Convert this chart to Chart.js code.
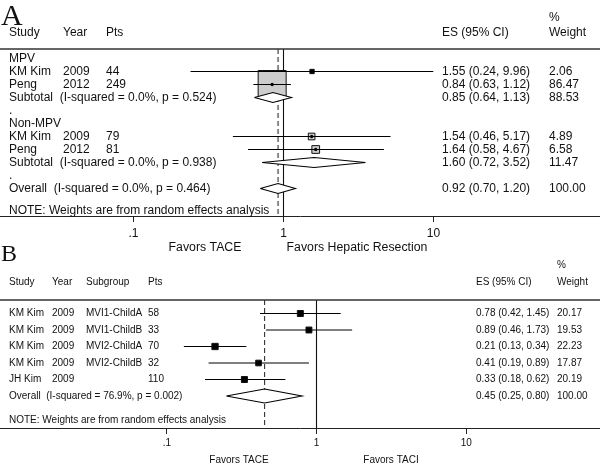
<!DOCTYPE html>
<html>
<head>
<meta charset="utf-8">
<script src="https://cdn.jsdelivr.net/npm/chart.js@4.4.1/dist/chart.umd.min.js"></script>
<style>
html,body{margin:0;padding:0;background:#fff;}
#wrap{position:relative;width:600px;height:464px;background:#fff;}
canvas{position:absolute;left:0;top:0;width:600px;height:464px;}
</style>
</head>
<body>
<div id="wrap"><canvas id="cA" width="600" height="464"></canvas><canvas id="cB" width="600" height="464"></canvas></div>
<script>
// ---------- shared ----------
const tickValues = [0.1, 1, 10];
const tickLabels = ['.1', '1', '10'];
const noteText = 'NOTE: Weights are from random effects analysis';

// ---------- Panel A data ----------
const groupsA = ['MPV', 'Non-MPV'];
const studyA = ['KM Kim', 'Peng', 'KM Kim', 'Peng'];
const groupOfA = [0, 0, 1, 1];
const yearA = ['2009', '2012', '2009', '2012'];
const ptsA = ['44', '249', '79', '81'];
const esA = [1.55, 0.84, 1.54, 1.64];
const loA = [0.24, 0.63, 0.46, 0.58];
const hiA = [9.96, 1.12, 5.17, 4.67];
const wA = [2.06, 86.47, 4.89, 6.58];
const subEsA = [0.85, 1.60];
const subLoA = [0.64, 0.72];
const subHiA = [1.13, 3.52];
const subWA = [88.53, 11.47];
const subHetA = ['(I-squared = 0.0%, p = 0.524)', '(I-squared = 0.0%, p = 0.938)'];
const overallA = [0.92, 0.70, 1.20];
const overallWA = 100.00;
const overallHetA = '(I-squared = 0.0%, p = 0.464)';
const favorsA = ['Favors TACE', 'Favors Hepatic Resection'];

// ---------- Panel B data ----------
const studyB = ['KM Kim', 'KM Kim', 'KM Kim', 'KM Kim', 'JH Kim'];
const yearB = ['2009', '2009', '2009', '2009', '2009'];
const subgroupB = ['MVI1-ChildA', 'MVI1-ChildB', 'MVI2-ChildA', 'MVI2-ChildB', ''];
const ptsB = ['58', '33', '70', '32', '110'];
const esB = [0.78, 0.89, 0.21, 0.41, 0.33];
const loB = [0.42, 0.46, 0.13, 0.19, 0.18];
const hiB = [1.45, 1.73, 0.34, 0.89, 0.62];
const wB = [20.17, 19.53, 22.23, 17.87, 20.19];
const overallB = [0.45, 0.25, 0.80];
const overallWB = 100.00;
const overallHetB = '(I-squared = 76.9%, p = 0.002)';
const favorsB = ['Favors TACE', 'Favors TACI'];

// ---------- helpers ----------
const FONT = "'Liberation Sans', Arial, sans-serif";
const SERIF = "'Liberation Serif', 'Times New Roman', serif";
const TXT = '#111';
const fmtCI = (e, l, h) => `${e.toFixed(2)} (${l.toFixed(2)}, ${h.toFixed(2)})`;

function baseDatasets(es, lo, hi, w, rows, ov, ovRow, yMin, yMax, boxMax, boxFill, diamondH, subs) {
  const ds = [];
  const maxW = Math.max(...w);
  const sides = w.map(v => boxMax * Math.sqrt(v / maxW));
  // reference lines
  ds.push({data: [{x: 1, y: yMin}, {x: 1, y: yMax}], showLine: true, borderColor: '#111', borderWidth: 1.1, pointRadius: 0, order: 9});
  ds.push({data: [{x: ov[0], y: yMin}, {x: ov[0], y: yMax}], showLine: true, borderColor: '#333', borderWidth: 1.1, borderDash: [5, 3], pointRadius: 0, order: 9});
  // boxes
  ds.push({data: es.map((e, i) => ({x: e, y: rows[i]})), pointStyle: 'rect',
    pointRadius: sides.map(s => s / Math.SQRT2),
    backgroundColor: sides.map(s => s < 5 ? '#111' : boxFill), borderColor: '#111', borderWidth: 1, order: 5});
  // CI lines
  es.forEach((e, i) => ds.push({data: [{x: lo[i], y: rows[i]}, {x: hi[i], y: rows[i]}], showLine: true,
    borderColor: '#000', borderWidth: 1.2, pointRadius: 0, order: 4}));
  // point estimate dots
  ds.push({data: es.map((e, i) => ({x: e, y: rows[i]})), pointStyle: 'circle', pointRadius: 1.7,
    backgroundColor: '#000', borderWidth: 0, order: 3});
  // diamonds (subtotals + overall)
  const dia = subs.concat([[ov[0], ov[1], ov[2], ovRow]]);
  dia.forEach(d => {
    const [e, l, h, r] = d;
    ds.push({data: [{x: l, y: r}, {x: e, y: r - diamondH}, {x: h, y: r}, {x: e, y: r + diamondH}, {x: l, y: r}],
      showLine: true, fill: 'shape', backgroundColor: '#fff', borderColor: '#000', borderWidth: 1.1,
      pointRadius: 0, tension: 0, order: 1});
  });
  return ds;
}

function xAxis(min, max, fontSize, pad, h) {
  return {
    type: 'logarithmic', min: min, max: max, bounds: 'data', position: 'bottom', offset: false,
    afterBuildTicks: s => { s.ticks = tickValues.map(v => ({value: v})); },
    afterFit: s => { s.height = h; },
    ticks: {autoSkip: false, maxRotation: 0, padding: pad, color: TXT,
      font: {family: FONT, size: fontSize},
      callback: (v, i) => tickLabels[i]},
    grid: {display: true, drawOnChartArea: false, drawTicks: true, tickLength: 6, color: '#222', lineWidth: 1},
    border: {display: true, color: '#222', width: 1}
  };
}

// ---------- Panel A layout ----------
const A = {top: 49, bottom: 216, rowStart: 58.5, rowH: 13, one: 283.5, decade: 150};
const rowsA = []; const groupRowA = []; const subRowA = []; const dotRowA = [];
(function () {
  let r = 0;
  groupsA.forEach((g, gi) => {
    groupRowA.push(r++);
    studyA.forEach((s, i) => { if (groupOfA[i] === gi) rowsA[i] = r++; });
    subRowA.push(r++);
    dotRowA.push(r++);
  });
})();
const overallRowA = subRowA[subRowA.length - 1] + 2;
const noteRowA = overallRowA + 1.7;
const yMinA = -(A.rowStart - A.top) / A.rowH;
const yMaxA = yMinA + (A.bottom - A.top) / A.rowH;
const xMinA = Math.pow(10, -A.one / A.decade);
const xMaxA = Math.pow(10, (600 - A.one) / A.decade);
const subsA = subEsA.map((e, i) => [e, subLoA[i], subHiA[i], subRowA[i]]);

const textPluginA = {
  id: 'textA',
  afterDraw(chart) {
    const c = chart.ctx; const y = chart.scales.y; const ca = chart.chartArea;
    c.save();
    c.fillStyle = '#111'; c.font = `30px ${SERIF}`; c.textBaseline = 'alphabetic'; c.textAlign = 'left';
    c.fillText('A', 1, 25);
    c.strokeStyle = '#333'; c.lineWidth = 1.5;
    c.beginPath(); c.moveTo(0, ca.top); c.lineTo(600, ca.top); c.stroke();
    c.fillStyle = TXT; c.font = `12px ${FONT}`; c.textBaseline = 'middle';
    const hy = ca.top - 16;
    c.fillText('Study', 9, hy); c.fillText('Year', 63, hy); c.fillText('Pts', 106, hy);
    c.fillText('ES (95% CI)', 442, hy); c.fillText('%', 549, hy - 15); c.fillText('Weight', 549, hy);
    groupsA.forEach((g, gi) => {
      c.fillText(g, 9, y.getPixelForValue(groupRowA[gi]));
      const sy = y.getPixelForValue(subRowA[gi]);
      c.fillText('Subtotal  ' + subHetA[gi], 9, sy);
      c.fillText(fmtCI(subEsA[gi], subLoA[gi], subHiA[gi]), 442, sy);
      c.fillText(subWA[gi].toFixed(2), 549, sy);
      c.fillText('.', 9, y.getPixelForValue(dotRowA[gi]));
    });
    studyA.forEach((s, i) => {
      const ry = y.getPixelForValue(rowsA[i]);
      c.fillText(s, 9, ry); c.fillText(yearA[i], 63, ry); c.fillText(ptsA[i], 106, ry);
      c.fillText(fmtCI(esA[i], loA[i], hiA[i]), 442, ry);
      c.fillText(wA[i].toFixed(2), 549, ry);
    });
    const oy = y.getPixelForValue(overallRowA);
    c.fillText('Overall  ' + overallHetA, 9, oy);
    c.fillText(fmtCI(overallA[0], overallA[1], overallA[2]), 442, oy);
    c.fillText(overallWA.toFixed(2), 549, oy);
    c.fillText(noteText, 9, y.getPixelForValue(noteRowA));
    c.textAlign = 'center';
    c.font = `12.3px ${FONT}`;
    c.fillText(favorsA[0], 205, 248);
    c.fillText(favorsA[1], 357, 248);
    c.restore();
  }
};

new Chart(document.getElementById('cA'), {
  type: 'scatter',
  data: {datasets: baseDatasets(esA, loA, hiA, wA, rowsA, overallA, overallRowA, yMinA, yMaxA, 28, '#cdcdcd', 5 / A.rowH, subsA)},
  options: {
    responsive: false, animation: false, events: [],
    layout: {autoPadding: false, padding: {top: A.top, bottom: 464 - A.bottom - 30, left: 0, right: 0}},
    plugins: {legend: {display: false}, tooltip: {enabled: false}},
    scales: {
      x: xAxis(xMinA, xMaxA, 12, 4, 30),
      y: {type: 'linear', display: false, reverse: true, min: yMinA, max: yMaxA}
    }
  },
  plugins: [textPluginA]
});

// ---------- Panel B layout ----------
const B = {top: 300, bottom: 428, rowStart: 313.5, rowH: 16.5, one: 316.5, decade: 149.7};
const rowsB = studyB.map((s, i) => i);
const overallRowB = rowsB.length;
const noteRowB = overallRowB + 1.48;
const yMinB = -(B.rowStart - B.top) / B.rowH;
const yMaxB = yMinB + (B.bottom - B.top) / B.rowH;
const xMinB = Math.pow(10, -B.one / B.decade);
const xMaxB = Math.pow(10, (600 - B.one) / B.decade);

const textPluginB = {
  id: 'textB',
  afterDraw(chart) {
    const c = chart.ctx; const y = chart.scales.y; const ca = chart.chartArea;
    c.save();
    c.fillStyle = '#111'; c.font = `24px ${SERIF}`; c.textBaseline = 'alphabetic'; c.textAlign = 'left';
    c.fillText('B', 1, 261);
    c.strokeStyle = '#333'; c.lineWidth = 1.5;
    c.beginPath(); c.moveTo(0, ca.top); c.lineTo(600, ca.top); c.stroke();
    c.fillStyle = TXT; c.font = `10px ${FONT}`; c.textBaseline = 'middle';
    const hy = ca.top - 18;
    c.fillText('Study', 9, hy); c.fillText('Year', 52, hy); c.fillText('Subgroup', 86, hy); c.fillText('Pts', 148, hy);
    c.fillText('ES (95% CI)', 476, hy); c.fillText('%', 557, hy - 17); c.fillText('Weight', 557, hy);
    studyB.forEach((s, i) => {
      const ry = y.getPixelForValue(rowsB[i]);
      c.fillText(s, 9, ry); c.fillText(yearB[i], 52, ry); c.fillText(subgroupB[i], 86, ry); c.fillText(ptsB[i], 148, ry);
      c.fillText(fmtCI(esB[i], loB[i], hiB[i]), 476, ry);
      c.fillText(wB[i].toFixed(2), 557, ry);
    });
    const oy = y.getPixelForValue(overallRowB);
    c.fillText('Overall  ' + overallHetB, 9, oy);
    c.fillText(fmtCI(overallB[0], overallB[1], overallB[2]), 476, oy);
    c.fillText(overallWB.toFixed(2), 557, oy);
    c.fillText(noteText, 9, y.getPixelForValue(noteRowB));
    c.textAlign = 'center';
    c.fillText(favorsB[0], 239, 460);
    c.fillText(favorsB[1], 391, 460);
    c.restore();
  }
};

new Chart(document.getElementById('cB'), {
  type: 'scatter',
  data: {datasets: baseDatasets(esB, loB, hiB, wB, rowsB, overallB, overallRowB, yMinB, yMaxB, 6.3, '#000', 7 / B.rowH, [])},
  options: {
    responsive: false, animation: false, events: [],
    layout: {autoPadding: false, padding: {top: B.top, bottom: 464 - B.bottom - 26, left: 0, right: 0}},
    plugins: {legend: {display: false}, tooltip: {enabled: false}},
    scales: {
      x: xAxis(xMinB, xMaxB, 10, 3, 26),
      y: {type: 'linear', display: false, reverse: true, min: yMinB, max: yMaxB}
    }
  },
  plugins: [textPluginB]
});
</script>
</body>
</html>
